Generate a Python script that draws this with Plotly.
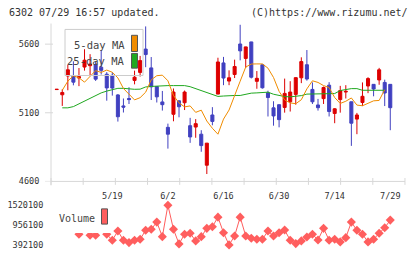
import plotly.graph_objects as go

W, H = 420, 259

dates = ["5/1", "5/2", "5/7", "5/8", "5/9", "5/12", "5/13", "5/14", "5/15", "5/16",
         "5/19", "5/20", "5/21", "5/22", "5/23", "5/26", "5/27", "5/28", "5/29", "5/30",
         "6/2", "6/3", "6/4", "6/5", "6/6", "6/9", "6/10", "6/11", "6/12", "6/13",
         "6/16", "6/17", "6/18", "6/19", "6/20", "6/23", "6/24", "6/25", "6/26", "6/27",
         "6/30", "7/1", "7/2", "7/3", "7/4", "7/7", "7/8", "7/9", "7/10", "7/11",
         "7/14", "7/15", "7/16", "7/17", "7/18", "7/22", "7/23", "7/24", "7/25", "7/28",
         "7/29"]

opens = [5269, 5231, 5368, 5370, 5353, 5433, 5443, 5450, 5432, 5381,
         5373, 5230, 5150, 5204, 5336, 5394, 5564, 5427, 5291, 5179,
         4994, 5089, 5187, 5173, 5006, 4996, 4944, 4718, 5084, 5236,
         5463, 5331, 5379, 5601, 5496, 5616, 5329, 5450, 5246, 5136,
         5159, 5139, 5180, 5234, 5355, 5450, 5270, 5157, 5203, 5301,
         5095, 5196, 5251, 5180, 5054, 5175, 5295, 5307, 5339, 5321,
         5307]
highs = [5271, 5271, 5450, 5475, 5426, 5563, 5527, 5475, 5557, 5396,
         5396, 5236, 5204, 5286, 5407, 5514, 5729, 5506, 5292, 5259,
         5021, 5277, 5191, 5262, 5063, 5054, 4973, 4880, 5141, 5501,
         5507, 5409, 5487, 5741, 5581, 5617, 5404, 5451, 5261, 5184,
         5160, 5349, 5330, 5357, 5504, 5557, 5321, 5201, 5291, 5323,
         5134, 5296, 5301, 5181, 5099, 5321, 5359, 5308, 5427, 5341,
         5308]
lows = [5268, 5150, 5264, 5300, 5294, 5407, 5368, 5332, 5379, 5188,
        5225, 5036, 5102, 5164, 5307, 5364, 5432, 5193, 5175, 5116,
        4839, 5038, 5067, 5120, 4881, 4918, 4816, 4654, 5009, 5235,
        5301, 5301, 5353, 5482, 5426, 5350, 5275, 5276, 5073, 5006,
        4994, 5101, 5109, 5159, 5316, 5334, 5164, 5116, 5164, 5073,
        5024, 5101, 5204, 4859, 4944, 5150, 5243, 5220, 5304, 5149,
        4973]
closes = [5271, 5248, 5413, 5323, 5363, 5483, 5455, 5345, 5409, 5281,
          5280, 5071, 5141, 5196, 5359, 5480, 5524, 5289, 5216, 5159,
          4944, 5251, 5144, 5251, 4924, 5021, 4861, 4879, 5037, 5470,
          5353, 5355, 5437, 5551, 5580, 5359, 5351, 5282, 5211, 5077,
          5050, 5241, 5251, 5356, 5473, 5346, 5180, 5137, 5284, 5109,
          5129, 5262, 5256, 5024, 5084, 5220, 5349, 5273, 5413, 5244,
          5137]

# moving averages as drawn (points at dates[1] .. dates[59])
ma_dates = dates[1:60]
ma5 = [5264, 5330, 5370, 5355, 5323, 5366, 5407, 5394, 5411, 5395,
       5354, 5277, 5236, 5194, 5210, 5250, 5340, 5370, 5374, 5333,
       5226, 5172, 5143, 5150, 5103, 5119, 5040, 4987, 4944, 5054,
       5120, 5219, 5330, 5433, 5455, 5456, 5456, 5425, 5357, 5256,
       5194, 5172, 5166, 5195, 5274, 5333, 5321, 5298, 5284, 5211,
       5168, 5184, 5208, 5156, 5151, 5169, 5187, 5190, 5268]
ma25 = [5136, 5136, 5145, 5165, 5180, 5205, 5225, 5245, 5258, 5270,
        5278, 5278, 5274, 5271, 5272, 5288, 5292, 5295, 5298, 5298,
        5298, 5298, 5298, 5290, 5276, 5262, 5250, 5232, 5219, 5222,
        5226, 5226, 5226, 5235, 5243, 5245, 5248, 5250, 5235, 5226,
        5218, 5216, 5218, 5225, 5236, 5236, 5236, 5236, 5236, 5240,
        5262, 5270, 5276, 5276, 5264, 5264, 5264, 5264, 5264]

volume = [900000, 900000, 900000, 900000, 694000, 900000, 666000, 666000, 900000, 694000,
          525000, 787000, 525000, 457000, 525000, 553000, 807000, 835000, 1041000, 626000,
          1520100, 835000, 420000, 694000, 722000, 505000, 626000, 863000, 908000, 1182000,
          739000, 392100, 646000, 1182000, 646000, 581000, 553000, 553000, 787000, 646000,
          739000, 815000, 525000, 429000, 505000, 618000, 694000, 533000, 863000, 525000,
          553000, 477000, 598000, 1041000, 807000, 694000, 477000, 553000, 722000, 880000,
          1097000]

price_ticks = [5600, 5100, 4600]
volume_ticks = [1520100, 956100, 392100]
x_label_dates = ["5/19", "6/2", "6/16", "6/30", "7/14", "7/29"]

RED = "#DD0000"
BLUE = "#4040C0"
ORANGE = "#F08C00"
GREEN = "#1FA81F"
VOLC = "#FF5E5E"
GRID = "#D8D8D8"
TXT = "#333333"
FONT = "DejaVu Sans Mono"


def px(x):
    return x / W


def py(y):
    return (H - y) / H


fig = go.Figure()

fig.add_trace(go.Candlestick(
    x=dates, open=opens, high=highs, low=lows, close=closes,
    increasing=dict(line=dict(color=RED, width=1), fillcolor=RED),
    decreasing=dict(line=dict(color=BLUE, width=1), fillcolor=BLUE),
    whiskerwidth=0, showlegend=False, xaxis="x", yaxis="y"))

fig.add_trace(go.Scatter(x=ma_dates, y=ma25, mode="lines",
                         line=dict(color=GREEN, width=1), showlegend=False,
                         xaxis="x", yaxis="y"))
fig.add_trace(go.Scatter(x=ma_dates, y=ma5, mode="lines",
                         line=dict(color=ORANGE, width=1), showlegend=False,
                         xaxis="x", yaxis="y"))

fig.add_trace(go.Scatter(x=dates, y=volume, mode="lines+markers",
                         line=dict(color=VOLC, width=1),
                         marker=dict(symbol="diamond", size=7, color=VOLC),
                         showlegend=False, xaxis="x2", yaxis="y2"))

xdom = [px(51), px(405)]
xrange = [-1.03, 62.65]

shapes = []
# axis lines
shapes.append(dict(type="line", xref="paper", yref="paper",
                   x0=px(51), x1=px(51), y0=py(189), y1=py(24),
                   line=dict(color=GRID, width=1)))
shapes.append(dict(type="line", xref="paper", yref="paper",
                   x0=px(51), x1=px(405), y0=py(185), y1=py(185),
                   line=dict(color=GRID, width=1)))
for k in range(12):
    xx = px(51 + 32.18 * k)
    shapes.append(dict(type="line", xref="paper", yref="paper",
                       x0=xx, x1=xx, y0=py(188.5), y1=py(181.5),
                       line=dict(color=GRID, width=1)))
for v in price_ticks:
    shapes.append(dict(type="line", xref="paper", yref="y",
                       x0=px(45), x1=px(53), y0=v, y1=v,
                       line=dict(color=GRID, width=1)))
# MA legend box
shapes.append(dict(type="rect", xref="paper", yref="paper",
                   x0=px(65), x1=px(143), y0=py(77), y1=py(30),
                   line=dict(color="#CCCCCC", width=1), layer="above"))
shapes.append(dict(type="rect", xref="paper", yref="paper",
                   x0=px(131.5), x1=px(137.5), y0=py(52.5), y1=py(36),
                   fillcolor=ORANGE, line=dict(color="#555555", width=1), layer="above"))
shapes.append(dict(type="rect", xref="paper", yref="paper",
                   x0=px(131.5), x1=px(137.5), y0=py(69.5), y1=py(54.5),
                   fillcolor=GREEN, line=dict(color="#555555", width=1), layer="above"))
# volume legend background + swatch
shapes.append(dict(type="rect", xref="paper", yref="paper",
                   x0=px(52), x1=px(110), y0=py(237.5), y1=py(203),
                   fillcolor="white", line=dict(width=0), layer="above"))
shapes.append(dict(type="rect", xref="paper", yref="paper",
                   x0=px(101.5), x1=px(107.5), y0=py(228.5), y1=py(213),
                   fillcolor=VOLC, line=dict(color="#555555", width=1), layer="above"))

annotations = [
    dict(text="6302 07/29 16:57 updated.", xref="paper", yref="paper",
         x=px(7), y=py(12.5), xanchor="left", yanchor="middle", showarrow=False,
         font=dict(family=FONT, size=10, color=TXT)),
    dict(text="(C)https://www.rizumu.net/", xref="paper", yref="paper",
         x=px(410), y=py(12.5), xanchor="right", yanchor="middle", showarrow=False,
         font=dict(family=FONT, size=10, color=TXT)),
    dict(text="5-day MA", xref="paper", yref="paper",
         x=px(127), y=py(45.5), xanchor="right", yanchor="middle", showarrow=False,
         font=dict(family=FONT, size=10.5, color="#444444")),
    dict(text="25-day MA", xref="paper", yref="paper",
         x=px(127), y=py(62.5), xanchor="right", yanchor="middle", showarrow=False,
         font=dict(family=FONT, size=10.5, color="#444444")),
    dict(text="Volume", xref="paper", yref="paper",
         x=px(57), y=py(222.5), xanchor="left", yanchor="middle", showarrow=False,
         font=dict(family=FONT, size=10, color="#444444")),
]

fig.update_layout(
    width=W, height=H, margin=dict(l=0, r=0, t=0, b=0),
    paper_bgcolor="white", plot_bgcolor="white",
    showlegend=False, boxgap=0.22,
    xaxis=dict(domain=xdom, type="category", categoryorder="array", categoryarray=dates,
               range=xrange, anchor="y", rangeslider=dict(visible=False),
               showgrid=False, zeroline=False, showline=False,
               tickmode="array", tickvals=x_label_dates, ticktext=x_label_dates,
               ticks="outside", ticklen=6, tickcolor="rgba(0,0,0,0)",
               tickfont=dict(family=FONT, size=8.5, color=TXT)),
    yaxis=dict(domain=[py(185), py(24)], range=[4600, 5750], anchor="x",
               showgrid=False, zeroline=False, showline=False,
               tickmode="array", tickvals=price_ticks, ticktext=[str(v) for v in price_ticks],
               ticks="outside", ticklen=9, tickcolor="rgba(0,0,0,0)",
               tickfont=dict(family=FONT, size=8.5, color=TXT)),
    xaxis2=dict(domain=xdom, type="category", categoryorder="array", categoryarray=dates,
                range=xrange, anchor="y2", showgrid=False, zeroline=False,
                showline=False, showticklabels=False, ticks=""),
    yaxis2=dict(domain=[py(255), py(204)], range=[244100, 1668100], anchor="x2",
                showgrid=False, zeroline=False, showline=False,
                tickmode="array", tickvals=volume_ticks, ticktext=[str(v) for v in volume_ticks],
                ticks="outside", ticklen=5, tickcolor="rgba(0,0,0,0)",
                tickfont=dict(family=FONT, size=8.5, color=TXT)),
    shapes=shapes, annotations=annotations,
)

fig.write_html("out.html")
